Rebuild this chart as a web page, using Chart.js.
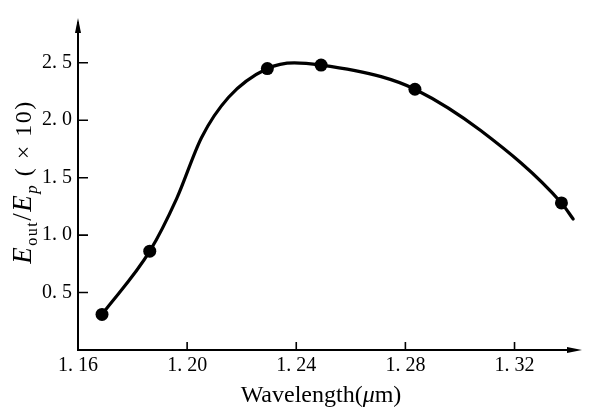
<!DOCTYPE html>
<html>
<head>
<meta charset="utf-8">
<script src="https://cdn.jsdelivr.net/npm/chart.js@4.4.1/dist/chart.umd.min.js"></script>
<style>
html, body { margin: 0; padding: 0; background: #fff; }
#wrap { width: 616px; height: 407px; }
</style>
</head>
<body>
<div id="wrap"><canvas id="myChart"></canvas></div>
<script>
// measured points: wavelength (um) vs Eout/Ep (x10)
const wavelengths = [1.1688, 1.1863, 1.2294, 1.2491, 1.2835, 1.3372];
const ratios = [0.31, 0.86, 2.45, 2.48, 2.27, 1.28];

// the drawn fit curve
const curveX = [1.1688, 1.1863, 1.1962, 1.2053, 1.2152, 1.2294, 1.2393, 1.2491, 1.2711, 1.2835, 1.3076, 1.3372, 1.3415];
const curveY = [0.31, 0.86, 1.32, 1.85, 2.20, 2.45, 2.50, 2.48, 2.38, 2.27, 1.91, 1.28, 1.14];

// axis ticks
const xTicks = [1.16, 1.20, 1.24, 1.28, 1.32];
const xTickLabels = ['1. 16', '1. 20', '1. 24', '1. 28', '1. 32'];
const yTicks = [0.5, 1.0, 1.5, 2.0, 2.5];
const yTickLabels = ['0. 5', '1. 0', '1. 5', '2. 0', '2. 5'];

const serif = '"Liberation Serif", "DejaVu Serif", serif';
const ink = '#000';

// axes with arrows, inward tick marks and the two axis titles
const axesPlugin = {
    id: 'axesPlugin',
    afterDraw(chart) {
        const ctx = chart.ctx;
        const a = chart.chartArea;
        const xs = chart.scales.x, ys = chart.scales.y;
        ctx.save();
        ctx.strokeStyle = ink;
        ctx.fillStyle = ink;
        ctx.lineWidth = 2;

        // axis lines
        ctx.beginPath();
        ctx.moveTo(a.left, a.bottom);
        ctx.lineTo(a.left, a.top + 4);
        ctx.moveTo(a.left - 1, a.bottom);
        ctx.lineTo(a.right - 4, a.bottom);
        ctx.stroke();

        // arrow heads
        ctx.beginPath();
        ctx.moveTo(a.left, a.top);
        ctx.lineTo(a.left - 3, a.top + 15);
        ctx.lineTo(a.left + 3, a.top + 15);
        ctx.closePath();
        ctx.fill();
        ctx.beginPath();
        ctx.moveTo(a.right + 2, a.bottom);
        ctx.lineTo(a.right - 13, a.bottom - 3);
        ctx.lineTo(a.right - 13, a.bottom + 3);
        ctx.closePath();
        ctx.fill();

        // inward ticks
        ctx.lineWidth = 1.6;
        ctx.beginPath();
        xTicks.forEach(v => {
            if (v === xs.min) return;
            const px = xs.getPixelForValue(v);
            ctx.moveTo(px, a.bottom);
            ctx.lineTo(px, a.bottom - 8);
        });
        yTicks.forEach(v => {
            const py = ys.getPixelForValue(v);
            ctx.moveTo(a.left, py);
            ctx.lineTo(a.left + 10, py);
        });
        ctx.stroke();

        // x title: Wavelength(μm)
        ctx.textBaseline = 'alphabetic';
        const xParts = [
            ['Wavelength(', 'normal 24px ' + serif],
            ['\u03bc', 'italic 24px ' + serif],
            ['m)', 'normal 24px ' + serif]
        ];
        let w = 0;
        xParts.forEach(p => { ctx.font = p[1]; w += ctx.measureText(p[0]).width; });
        let cx = 321 - w / 2;
        xParts.forEach(p => {
            ctx.font = p[1];
            ctx.fillText(p[0], cx, 402);
            cx += ctx.measureText(p[0]).width;
        });

        // y title: Eout/Ep (×10), rotated
        ctx.letterSpacing = '1.5px';
        const yParts = [
            ['E', 'italic 27px ' + serif, 0],
            ['out', 'normal 16px ' + serif, 6],
            ['/', 'normal 27px ' + serif, 0],
            ['E', 'italic 27px ' + serif, 0],
            ['p', 'italic 17px ' + serif, 6],
            [' ( \u00d7 10)', 'normal 24px ' + serif, 0]
        ];
        w = 0;
        yParts.forEach(p => { ctx.font = p[1]; w += ctx.measureText(p[0]).width; });
        ctx.translate(31, 182);
        ctx.rotate(-Math.PI / 2);
        cx = -w / 2;
        yParts.forEach(p => {
            ctx.font = p[1];
            ctx.fillText(p[0], cx, p[2]);
            cx += ctx.measureText(p[0]).width;
        });
        ctx.restore();
    }
};

const ctx = document.getElementById('myChart').getContext('2d');
const myChart = new Chart(ctx, {
    type: 'scatter',
    data: {
        datasets: [
            {
                label: 'curve',
                data: curveX.map((x, i) => ({ x: x, y: curveY[i] })),
                showLine: true,
                borderColor: ink,
                borderWidth: 3.2,
                pointRadius: 0,
                cubicInterpolationMode: 'monotone',
                borderCapStyle: 'round'
            },
            {
                label: 'measured',
                data: wavelengths.map((x, i) => ({ x: x, y: ratios[i] })),
                showLine: false,
                pointRadius: 6.5,
                pointBackgroundColor: ink,
                pointBorderColor: ink,
                pointBorderWidth: 0
            }
        ]
    },
    options: {
        responsive: true,
        maintainAspectRatio: false,
        animation: false,
        layout: { padding: { top: 12, right: 36, left: 0, bottom: 0 } },
        plugins: {
            legend: { display: false },
            tooltip: { enabled: false }
        },
        scales: {
            x: {
                type: 'linear',
                min: 1.16,
                max: 1.344,
                grid: { display: false, drawTicks: false },
                border: { display: false },
                afterBuildTicks: s => { s.ticks = xTicks.map(v => ({ value: v })); },
                afterFit: s => { s.height = 57; },
                ticks: {
                    padding: 4,
                    color: ink,
                    font: { family: serif, size: 20 },
                    callback: (v) => xTickLabels[xTicks.indexOf(v)]
                }
            },
            y: {
                min: 0,
                max: 2.89,
                grid: { display: false, drawTicks: false },
                border: { display: false },
                afterBuildTicks: s => { s.ticks = yTicks.map(v => ({ value: v })); },
                afterFit: s => { s.width = 78; },
                ticks: {
                    padding: 6,
                    color: ink,
                    font: { family: serif, size: 20 },
                    callback: (v) => yTickLabels[yTicks.indexOf(v)]
                }
            }
        }
    },
    plugins: [axesPlugin]
});
</script>
</body>
</html>
